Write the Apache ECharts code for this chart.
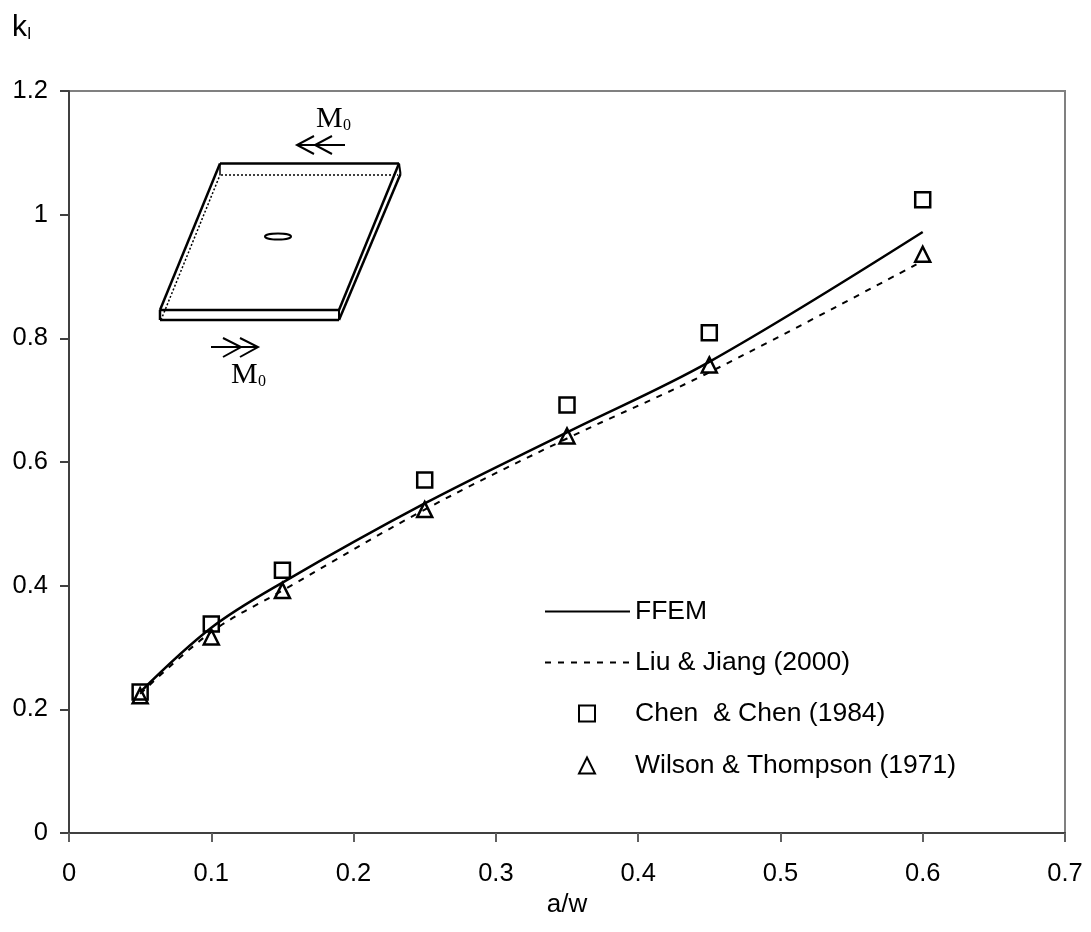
<!DOCTYPE html>
<html><head><meta charset="utf-8">
<style>html,body{margin:0;padding:0;background:#fff}#c{width:1091px;height:932px}</style>
<script src="https://cdn.jsdelivr.net/npm/echarts@6/dist/echarts.min.js"></script>
</head><body><div id="c"></div>
<script>
const xValues = [0.05, 0.1, 0.15, 0.25, 0.35, 0.45, 0.6];
const ffem = [0.228, 0.332, 0.405, 0.533, 0.648, 0.762, 0.972];
const liuJiang = [0.225, 0.325, 0.392, 0.523, 0.638, 0.745, 0.925];
const chenChen = [0.228, 0.338, 0.425, 0.571, 0.692, 0.809, 1.024];
const wilsonThompson = [0.222, 0.317, 0.392, 0.523, 0.642, 0.757, 0.936];
const pair = ys => xValues.map((x, i) => [x, ys[i]]);
const FONT = '"Liberation Sans", Arial, sans-serif';
const SERIF = '"Liberation Serif", "Times New Roman", serif';

const seg = (x1, y1, x2, y2, lw, dash) => ({
  type: 'line', shape: {x1, y1, x2, y2},
  style: {stroke: '#000', lineWidth: lw || 2, lineDash: dash || null}, silent: true
});
const poly = (pts, lw) => ({
  type: 'polyline', shape: {points: pts},
  style: {stroke: '#000', fill: 'none', lineWidth: lw || 2}, silent: true
});
const label = (text, x, y, size) => ({
  type: 'text', x, y, silent: true,
  style: {text, font: size + 'px ' + SERIF, fill: '#000'}
});
const moment = (x, y) => [label('M', x, y, 30), label('0', x + 27, y + 14, 16)];
const legendLine = (name, top) => ({
  data: [name], left: 544, top, padding: 0,
  itemWidth: 85, itemHeight: 16, itemGap: 0,
  itemStyle: {color: 'rgba(0,0,0,0)', borderColor: 'rgba(0,0,0,0)', borderWidth: 0},
  textStyle: {fontFamily: FONT, fontSize: 26.5, color: '#000', padding: 0},
  selectedMode: false
});
const legendMark = (name, top) => ({
  data: [name], left: 578, top, padding: 0,
  itemWidth: 16, itemHeight: 16, itemGap: 0,
  textStyle: {fontFamily: FONT, fontSize: 26.5, color: '#000', padding: [0, 0, 0, 35]},
  selectedMode: false
});

const chart = echarts.init(document.getElementById('c'), null, {renderer: 'canvas'});
chart.setOption({
  animation: false,
  backgroundColor: '#fff',
  textStyle: {fontFamily: FONT},
  grid: {left: 69, right: 26, top: 91, bottom: 99, show: true, borderColor: '#808080', borderWidth: 2},
  xAxis: {
    type: 'value', min: 0, max: 0.7, interval: 0.1,
    name: 'a/w', nameLocation: 'middle', nameGap: 53,
    nameTextStyle: {fontFamily: FONT, fontSize: 26, color: '#000'},
    axisLine: {show: true, lineStyle: {color: '#404040', width: 2}},
    axisTick: {show: true, length: 9, lineStyle: {color: '#606060', width: 2}},
    axisLabel: {fontFamily: FONT, fontSize: 25.5, color: '#000', margin: 28},
    splitLine: {show: false}
  },
  yAxis: {
    type: 'value', min: 0, max: 1.2, interval: 0.2,
    name: '{k|k}{i|I}', nameLocation: 'end', nameGap: 48,
    nameTextStyle: {
      align: 'left', padding: [0, 0, 0, -57],
      rich: {
        k: {fontFamily: FONT, fontSize: 30, color: '#000', verticalAlign: 'bottom'},
        i: {fontFamily: FONT, fontSize: 16, color: '#000', verticalAlign: 'bottom'}
      }
    },
    axisLine: {show: true, lineStyle: {color: '#404040', width: 2}},
    axisTick: {show: true, length: 9, lineStyle: {color: '#404040', width: 2}},
    axisLabel: {fontFamily: FONT, fontSize: 25.5, color: '#000', margin: 21},
    splitLine: {show: false}
  },
  legend: [
    legendLine('FFEM', 598),
    legendLine('Liu & Jiang (2000)', 649),
    legendMark('Chen  & Chen (1984)', 700),
    legendMark('Wilson & Thompson (1971)', 752)
  ],
  series: [
    {name: 'FFEM', type: 'line', data: pair(ffem), smooth: 0.35, symbol: 'none',
      lineStyle: {color: '#000', width: 2.5}, itemStyle: {color: '#000'}},
    {name: 'Liu & Jiang (2000)', type: 'line', data: pair(liuJiang), smooth: 0.35, symbol: 'none',
      lineStyle: {color: '#000', width: 2, type: [6, 7]}, itemStyle: {color: '#000'}},
    {name: 'Chen  & Chen (1984)', type: 'scatter', data: pair(chenChen), symbol: 'rect', symbolSize: 15,
      itemStyle: {color: 'rgba(255,255,255,0)', borderColor: '#000', borderWidth: 2.5, opacity: 1}},
    {name: 'Wilson & Thompson (1971)', type: 'scatter', data: pair(wilsonThompson), symbol: 'triangle', symbolSize: 15,
      itemStyle: {color: 'rgba(255,255,255,0)', borderColor: '#000', borderWidth: 2.5, opacity: 1}}
  ],
  graphic: [
    // inset: plate sketch
    seg(220, 163.5, 399, 163.5, 2.5),
    seg(160, 310, 339, 310, 2.5),
    seg(160, 320, 339, 320, 2.5),
    seg(160, 310, 220, 163.5, 2.5),
    seg(339, 310, 399, 163.5, 2.5),
    seg(339, 320, 400.5, 174, 2.5),
    seg(160, 310, 160, 320, 2.5),
    seg(339, 310, 339, 320, 2),
    seg(399, 163.5, 400.5, 174, 2),
    seg(220, 163.5, 220, 175, 1.5),
    seg(221, 175, 398, 175, 1.5, [2, 2]),
    seg(161, 320, 220, 175, 1.5, [2, 2]),
    {type: 'ellipse', shape: {cx: 278, cy: 236.5, rx: 13, ry: 3},
      style: {stroke: '#000', fill: 'none', lineWidth: 2}, silent: true},
    // moment arrows
    seg(297, 145, 345, 145, 2),
    poly([[314, 136], [297, 145], [314, 154]]),
    poly([[332, 136], [315, 145], [332, 154]]),
    seg(211, 347, 258, 347, 2),
    poly([[223, 338], [241, 347], [223, 357]]),
    poly([[240, 338], [258, 347], [240, 357]]),
    ...moment(316, 104),
    ...moment(231, 360)
  ]
});
</script></body></html>
